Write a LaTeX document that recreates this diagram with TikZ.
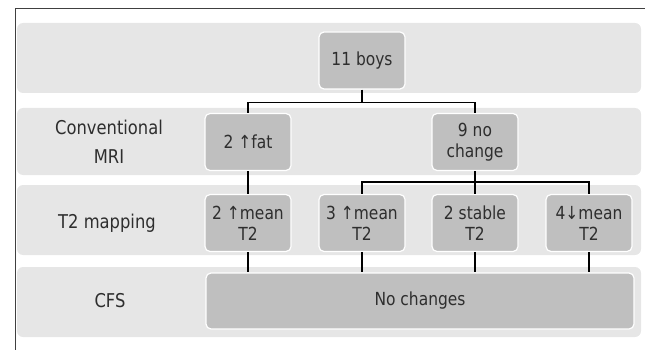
\documentclass[tikz,border=0pt]{standalone}
\usepackage{fontspec}
\setmainfont{DejaVu Sans}[FakeStretch=0.86]
\definecolor{bandgray}{HTML}{E6E6E6}
\definecolor{boxgray}{HTML}{BFBFBF}
\definecolor{txtgray}{HTML}{2E2E2E}
\definecolor{framegray}{HTML}{404040}
\begin{document}
\begin{tikzpicture}[x=1pt,y=-1pt,
  band/.style={fill=bandgray,rounded corners=6pt},
  box/.style={draw=white,line width=1.2pt,fill=boxgray,rounded corners=5pt,
    minimum width=86pt,minimum height=57pt,inner sep=1pt,align=center,
    text=txtgray,font=\fontsize{18}{21}\selectfont},
  rowlabel/.style={align=center,text=txtgray,font=\fontsize{19}{29}\selectfont},
  link/.style={draw=black,line width=1.4pt},
]
\useasboundingbox (0,0) rectangle (645,350);
\draw[framegray,line width=1pt] (15,350)--(15,9)--(645,9);
\foreach \t/\b in {23/93,108/175,185/255,267/337}{\fill[band] (17,\t) rectangle (641,\b);}
\node[rowlabel] (lmri) at (109,142) {Conventional\\MRI};
\node[rowlabel] (lt2) at (107,223.5) {T2 mapping};
\node[rowlabel] (lcfs) at (110,301) {CFS};
\node[box] (boys) at (362,60.5) {11 boys};
\node[box] (fat) at (248,142) {2 ↑fat};
\node[box] (nochg) at (475,142) {9 no\\change};
\node[box] (tA) at (248,223) {2 ↑mean\\T2};
\node[box] (tB) at (362,223) {3 ↑mean\\T2};
\node[box] (tC) at (475,223) {2 stable\\T2};
\node[box] (tD) at (589,223) {4↓mean\\T2};
\node[box,minimum width=428pt,minimum height=56pt] (cfs) at (420,301) {No changes};
\draw[link] (boys.south) -- ++(0,13) coordinate (s1);
\draw[link] (fat.north) |- (s1) -| (nochg.north);
\draw[link] (fat.south) -- (tA.north);
\draw[link] (nochg.south) -- (tC.north);
\draw[link] (tB.north) -- ++(0,-12) -| (tD.north);
\foreach \n in {tA,tB,tC,tD}{\draw[link,line width=1.8pt] (\n.south) -- (\n.south |- cfs.north);}
\end{tikzpicture}
\end{document}
